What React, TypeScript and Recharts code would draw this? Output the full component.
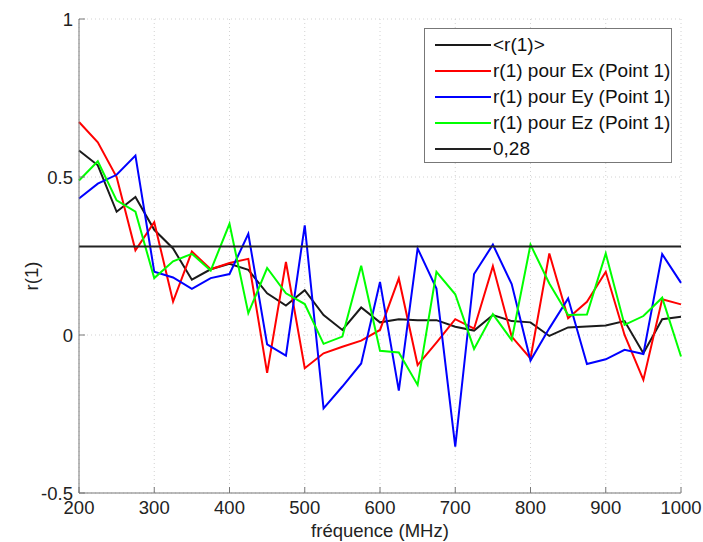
import React from "react";
import {
  LineChart,
  Line,
  XAxis,
  YAxis,
  CartesianGrid,
  ReferenceLine,
} from "recharts";

const FREQUENCES = [
  200, 225, 250, 275, 300, 325, 350, 375, 400, 425, 450, 475, 500, 525, 550, 575, 600,
  625, 650, 675, 700, 725, 750, 775, 800, 825, 850, 875, 900, 925, 950, 975, 1000,
];

const R_MOYEN = [
  0.584, 0.537, 0.39, 0.437, 0.333, 0.274, 0.175, 0.208, 0.225, 0.206, 0.132, 0.093, 0.142,
  0.063, 0.016, 0.087, 0.04, 0.05, 0.047, 0.047, 0.026, 0.014, 0.063, 0.044, 0.04, -0.003,
  0.024, 0.027, 0.03, 0.044, -0.058, 0.05, 0.058,
];

const R_EX = [
  0.674, 0.61, 0.5, 0.268, 0.357, 0.106, 0.264, 0.208, 0.228, 0.241, -0.12, 0.231, -0.105,
  -0.058, -0.037, -0.018, 0.016, 0.179, -0.095, -0.024, 0.05, 0.02, 0.218, -0.005, -0.074,
  0.258, 0.053, 0.105, 0.2, 0.0, -0.142, 0.113, 0.097,
];

const R_EY = [
  0.432, 0.479, 0.507, 0.568, 0.2, 0.182, 0.146, 0.18, 0.193, 0.32, -0.03, -0.065, 0.347,
  -0.232, -0.163, -0.09, 0.168, -0.176, 0.274, 0.147, -0.353, 0.193, 0.286, 0.161, -0.081,
  0.021, 0.116, -0.092, -0.077, -0.047, -0.06, 0.256, 0.165,
];

const R_EZ = [
  0.489, 0.55, 0.426, 0.39, 0.18, 0.233, 0.257, 0.204, 0.352, 0.069, 0.212, 0.132, 0.098,
  -0.028, -0.005, 0.219, -0.05, -0.055, -0.158, 0.2, 0.129, -0.044, 0.066, -0.016, 0.286,
  0.163, 0.063, 0.065, 0.258, 0.032, 0.06, 0.118, -0.068,
];

const SEUIL = 0.28;

const X_TICKS = [200, 300, 400, 500, 600, 700, 800, 900, 1000];
const Y_TICKS = [-0.5, 0, 0.5, 1];

const LEGENDE = [
  { nom: "<r(1)>", couleur: "#1a1a1a" },
  { nom: "r(1) pour Ex (Point 1)", couleur: "#ff0000" },
  { nom: "r(1) pour Ey (Point 1)", couleur: "#0000ff" },
  { nom: "r(1) pour Ez (Point 1)", couleur: "#00ff00" },
  { nom: "0,28", couleur: "#222222" },
];

const police = "'Liberation Sans', Arial, sans-serif";
const axe = "#777777";

const donnees = FREQUENCES.map((f, i) => ({
  f,
  moy: R_MOYEN[i],
  ex: R_EX[i],
  ey: R_EY[i],
  ez: R_EZ[i],
}));

function EtiquetteY({ viewBox }: any) {
  const cx = viewBox.x + 31;
  const cy = viewBox.y + viewBox.height / 2 + 20;
  return (
    <text
      x={cx}
      y={cy}
      transform={`rotate(-90 ${cx} ${cy})`}
      textAnchor="middle"
      dominantBaseline="central"
      fontSize={18.5}
      fontFamily={police}
      fill="#222"
    >
      r(1)
    </text>
  );
}

export default function App() {
  const tick = { fill: "#222", fontSize: 18.5, fontFamily: police };
  return (
    <div style={{ position: "absolute", left: 0, top: 0, width: 703, height: 542, background: "#fff" }}>
      <LineChart width={703} height={542} data={donnees} margin={{ top: 19, right: 22, bottom: 0, left: 0 }}>
        <CartesianGrid stroke="#d2d2d2" strokeDasharray="1 3" />
        <XAxis
          dataKey="f"
          type="number"
          domain={[200, 1000]}
          ticks={X_TICKS}
          height={49}
          stroke={axe}
          tickSize={-6}
          tickMargin={14}
          tick={tick}
          interval={0}
          label={{ value: "fréquence (MHz)", position: "insideBottom", offset: 5, fontSize: 18.5, fontFamily: police, fill: "#222" }}
        />
        <XAxis
          xAxisId="haut"
          orientation="top"
          dataKey="f"
          type="number"
          domain={[200, 1000]}
          ticks={X_TICKS}
          height={0}
          stroke={axe}
          tickSize={-6}
          tick={false}
        />
        <YAxis
          type="number"
          domain={[-0.5, 1]}
          ticks={Y_TICKS}
          width={79}
          stroke={axe}
          tickSize={-6}
          tickMargin={12}
          tick={tick}
          interval={0}
          label={<EtiquetteY />}
        />
        <YAxis
          yAxisId="droite"
          orientation="right"
          type="number"
          domain={[-0.5, 1]}
          ticks={Y_TICKS}
          width={0}
          stroke={axe}
          tickSize={-6}
          tick={false}
        />
        <Line dataKey="moy" stroke={LEGENDE[0].couleur} strokeWidth={2} dot={false} isAnimationActive={false} />
        <Line dataKey="ex" stroke={LEGENDE[1].couleur} strokeWidth={2} dot={false} isAnimationActive={false} />
        <Line dataKey="ey" stroke={LEGENDE[2].couleur} strokeWidth={2} dot={false} isAnimationActive={false} />
        <Line dataKey="ez" stroke={LEGENDE[3].couleur} strokeWidth={2} dot={false} isAnimationActive={false} />
        <ReferenceLine y={SEUIL} stroke={LEGENDE[4].couleur} strokeWidth={2} />
      </LineChart>
      <div
        style={{
          position: "absolute",
          left: 424,
          top: 28,
          width: 248,
          height: 135,
          boxSizing: "border-box",
          border: `1px solid ${axe}`,
          background: "#fff",
          paddingTop: 3,
          fontFamily: police,
          fontSize: 19,
          color: "#111",
        }}
      >
        {LEGENDE.map((s) => (
          <div key={s.nom} style={{ height: 26, display: "flex", alignItems: "center" }}>
            <svg width={56} height={4} style={{ marginLeft: 10, display: "block" }}>
              <line x1={0} y1={2} x2={56} y2={2} stroke={s.couleur} strokeWidth={2} />
            </svg>
            <span style={{ marginLeft: 2, whiteSpace: "nowrap" }}>{s.nom}</span>
          </div>
        ))}
      </div>
    </div>
  );
}
